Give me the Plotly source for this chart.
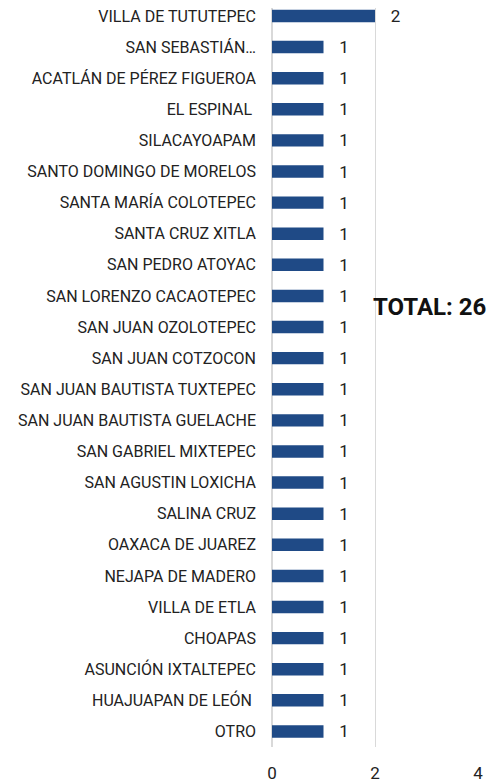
import plotly.graph_objects as go

categories = [
    "VILLA DE TUTUTEPEC", "SAN SEBASTIÁN…", "ACATLÁN DE PÉREZ FIGUEROA", "EL ESPINAL ",
    "SILACAYOAPAM", "SANTO DOMINGO DE MORELOS", "SANTA MARÍA COLOTEPEC", "SANTA CRUZ XITLA",
    "SAN PEDRO ATOYAC", "SAN LORENZO CACAOTEPEC", "SAN JUAN OZOLOTEPEC", "SAN JUAN COTZOCON",
    "SAN JUAN BAUTISTA TUXTEPEC", "SAN JUAN BAUTISTA GUELACHE", "SAN GABRIEL MIXTEPEC",
    "SAN AGUSTIN LOXICHA", "SALINA CRUZ", "OAXACA DE JUAREZ", "NEJAPA DE MADERO",
    "VILLA DE ETLA", "CHOAPAS", "ASUNCIÓN IXTALTEPEC", "HUAJUAPAN DE LEÓN ", "OTRO",
]
values = [2] + [1] * 23
x_ticks = [0, 2, 4]
total_label = "TOTAL: 26"

FONT = "Roboto, sans-serif"

# the page body adds an 8px offset; figure sized to fit the window
W, H = 487, 775
L, R, B = 264, 17, 35.5
plot_w = W - L - R
plot_h = H - B

fig = go.Figure(go.Bar(
    y=categories, x=values, orientation="h",
    marker=dict(color="#1F4A86", line=dict(width=0)),
    width=0.4,
    text=values, texttemplate="   %{x}", textposition="outside",
    constraintext="none",
    textfont=dict(family=FONT, size=17, color="#222222"),
    cliponaxis=False,
))

fig.update_layout(
    width=W, height=H,
    margin=dict(l=L, r=R, t=0, b=B, pad=0),
    plot_bgcolor="white", paper_bgcolor="white",
    showlegend=False,
    font=dict(family=FONT, color="#222222"),
    xaxis=dict(range=[0, 4], tickvals=x_ticks, showgrid=True, gridcolor="#D9D9D9",
               gridwidth=1, zeroline=True, zerolinecolor="#D9D9D9", showline=False,
               tickfont=dict(size=17, family=FONT, color="#222222"), ticklabelstandoff=14),
    yaxis=dict(range=[23.5, -0.256], showgrid=False, showline=False,
               tickfont=dict(size=16, family=FONT, color="#222222"), ticklabelstandoff=15),
    annotations=[dict(text=total_label, xref="paper", yref="paper",
                      x=(421 - L) / plot_w, y=1 - 299 / plot_h,
                      xanchor="center", yanchor="middle", showarrow=False,
                      font=dict(size=24, family=FONT, color="#111111", weight="bold"))],
)

fig.write_html("out.html")
